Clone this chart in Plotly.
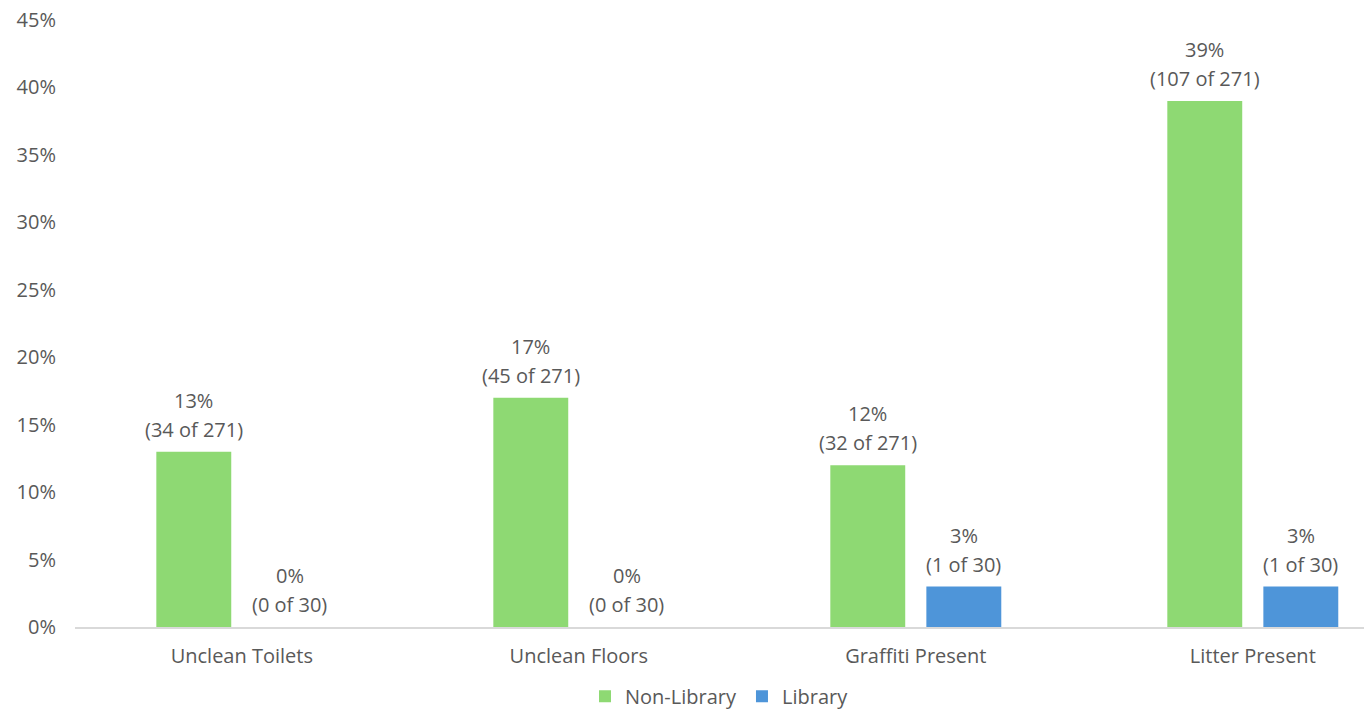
import plotly.graph_objects as go

categories = ["Unclean Toilets", "Unclean Floors", "Graffiti Present", "Litter Present"]
non_library_pct = [13, 17, 12, 39]
non_library_count = [34, 45, 32, 107]
non_library_total = 271
library_pct = [0, 0, 3, 3]
library_count = [0, 0, 1, 1]
library_total = 30
y_ticks = [0, 5, 10, 15, 20, 25, 30, 35, 40, 45]

GREEN = "#8ED973"
BLUE = "#4E95D9"
TEXT = "#595959"
FONT = "Open Sans"
FS = 20

BARGAP = 0.43
GROUPGAP = 0.22
slot = (1 - BARGAP) / 2  # width of each series slot in category units

fig = go.Figure()
fig.add_trace(go.Bar(name="Non-Library", x=categories, y=non_library_pct,
                     marker=dict(color=GREEN, line=dict(width=0))))
fig.add_trace(go.Bar(name="Library", x=categories, y=library_pct,
                     marker=dict(color=BLUE, line=dict(width=0))))

# two-line data labels above each bar
series = [
    (non_library_pct, non_library_count, non_library_total, -slot / 2),
    (library_pct, library_count, library_total, slot / 2),
]
for pct, cnt, tot, off in series:
    for i, (p, c) in enumerate(zip(pct, cnt)):
        fig.add_annotation(x=i + off, y=p, xref="x", yref="y",
                           text=f"({c} of {tot})", showarrow=False,
                           yanchor="bottom", yshift=7,
                           font=dict(family=FONT, size=FS, color=TEXT))
        fig.add_annotation(x=i + off, y=p, xref="x", yref="y",
                           text=f"{p}%", showarrow=False,
                           yanchor="bottom", yshift=36,
                           font=dict(family=FONT, size=FS, color=TEXT))

fig.update_layout(
    width=1364, height=709,
    margin=dict(l=75, r=0, t=20, b=82, autoexpand=False),
    paper_bgcolor="white", plot_bgcolor="white",
    barmode="group", bargap=BARGAP, bargroupgap=GROUPGAP,
    font=dict(family=FONT, size=FS, color=TEXT),
    showlegend=True,
    legend=dict(orientation="h", x=0.5, xanchor="center",
                yref="paper", y=-0.082, yanchor="top",
                font=dict(family=FONT, size=FS, color=TEXT),
                itemwidth=30, tracegroupgap=0),
    xaxis=dict(type="category", range=[-0.495, 3.33], showline=True,
               linecolor="#D9D9D9", linewidth=2, showgrid=False,
               ticks="", ticklabelstandoff=10,
               tickfont=dict(family=FONT, size=FS, color=TEXT)),
    yaxis=dict(range=[0, 45], tickvals=y_ticks,
               ticktext=[f"{v}%" for v in y_ticks],
               showgrid=False, zeroline=False, showline=False, ticks="",
               ticklabelstandoff=18,
               tickfont=dict(family=FONT, size=FS, color=TEXT)),
)

fig.write_html("out.html")
